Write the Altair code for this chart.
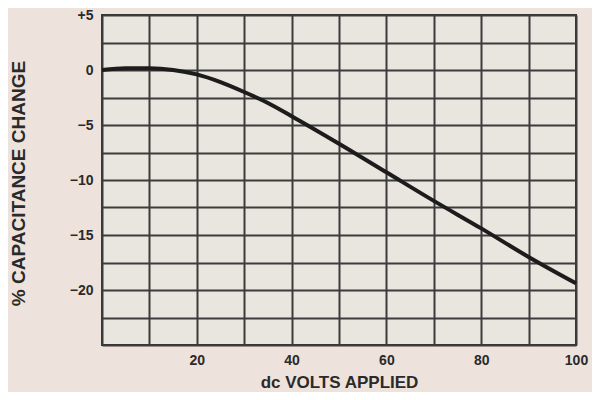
import altair as alt
import pandas as pd

volts = [0, 5, 10, 15, 20, 25, 30, 35, 40, 50, 60, 70, 80, 90, 100]
cap_change = [0.0, 0.15, 0.15, 0.0, -0.4, -1.1, -2.0, -3.0, -4.2, -6.7, -9.3, -11.9, -14.4, -17.0, -19.4]

x_grid = [0, 10, 20, 30, 40, 50, 60, 70, 80, 90, 100]
y_grid = [5, 2.5, 0, -2.5, -5, -7.5, -10, -12.5, -15, -17.5, -20, -22.5, -25]

df = pd.DataFrame({"v": volts, "c": cap_change})

FONT = "Liberation Sans"
INK = "#2a2a2a"

chart = alt.Chart(df).mark_line(
    color="#1c1c1c", strokeWidth=4, interpolate="monotone"
).encode(
    x=alt.X("v:Q", scale=alt.Scale(domain=[0, 100], nice=False, zero=False),
            axis=alt.Axis(values=x_grid, title="dc VOLTS APPLIED",
                          labelExpr="(datum.value % 20 == 0 && datum.value > 0) ? datum.label : ''",
                          grid=True, gridColor="#3c3c3c", gridWidth=2, gridOpacity=1,
                          ticks=False, domain=False, labelPadding=8, labelFlush=False,
                          labelFont=FONT, labelFontSize=14, labelFontWeight="bold", labelColor=INK,
                          titleFont=FONT, titleFontSize=17, titleFontWeight="bold", titleColor=INK,
                          titleY=37, titleBaseline="middle")),
    y=alt.Y("c:Q", scale=alt.Scale(domain=[-25, 5], nice=False, zero=False),
            axis=alt.Axis(values=y_grid, title="% CAPACITANCE CHANGE",
                          labelExpr="(datum.value % 5 == 0 && datum.value > -25) ? (datum.value > 0 ? '+' + datum.label : datum.label) : ''",
                          grid=True, gridColor="#3c3c3c", gridWidth=2, gridOpacity=1,
                          ticks=False, domain=False, labelPadding=9, labelFlush=False,
                          labelFont=FONT, labelFontSize=14, labelFontWeight="bold", labelColor=INK,
                          titleFont=FONT, titleFontSize=19, titleFontWeight="bold", titleColor=INK,
                          titleX=-84, titleY=168, titleAngle=-90, titleAlign="center",
                          titleBaseline="middle")),
).properties(
    width=474, height=330,
    autosize=alt.AutoSizeParams(type="none"),
    padding={"left": 94, "top": 7, "right": 16, "bottom": 47},
    background="#eee3dc",
).configure_view(
    fill="#e9e5df", stroke="#333333", strokeWidth=2,
)

chart.save("out.html", embed_options={"renderer": "svg", "actions": False})
